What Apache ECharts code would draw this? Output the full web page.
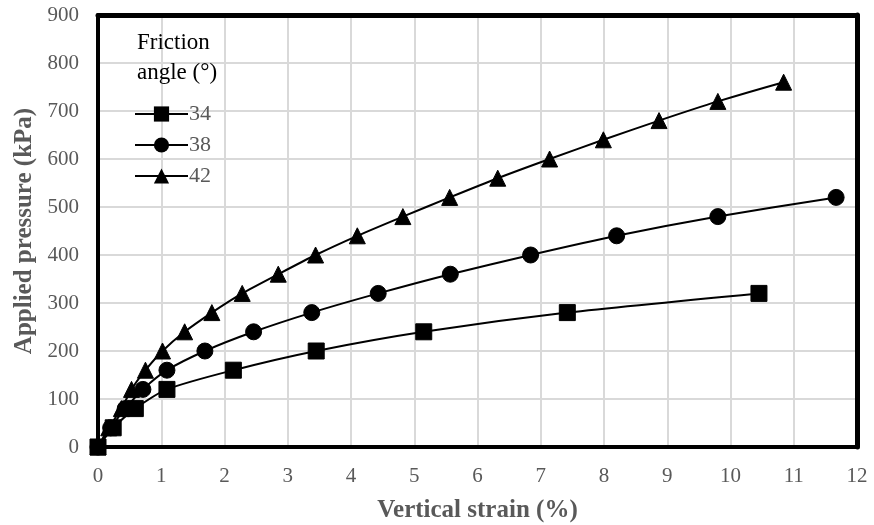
<!DOCTYPE html>
<html>
<head>
<meta charset="utf-8">
<script src="https://cdn.jsdelivr.net/npm/echarts@6/dist/echarts.min.js"></script>
<style>
  html, body { margin: 0; padding: 0; background: #fff; }
  #chart { width: 874px; height: 525px; }
</style>
</head>
<body>
<div id="chart"></div>
<script>
// Applied pressure vs vertical strain for three friction angles
const pressure34 = [0, 40, 80, 120, 160, 200, 240, 280, 320];
const strain34   = [0, 0.24, 0.59, 1.09, 2.14, 3.45, 5.15, 7.42, 10.45];

const pressure38 = [0, 40, 80, 120, 160, 200, 240, 280, 320, 360, 400, 440, 480, 520];
const strain38   = [0, 0.2, 0.43, 0.71, 1.09, 1.69, 2.46, 3.38, 4.43, 5.57, 6.84, 8.2, 9.8, 11.67];

const pressure42 = [0, 40, 80, 120, 160, 200, 240, 280, 320, 360, 400, 440, 480, 520, 560, 600, 640, 680, 720, 760];
const strain42   = [0, 0.17, 0.37, 0.53, 0.75, 1.02, 1.37, 1.8, 2.28, 2.85, 3.44, 4.1, 4.82, 5.56, 6.32, 7.14, 7.99, 8.87, 9.8, 10.84];

const seriesNames = ['34', '38', '42'];
const xTicks = [0, 12, 1];
const yTicks = [0, 900, 100];

const pairs = (xs, ys) => xs.map((x, i) => [x, ys[i]]);

const serif = 'Liberation Serif';
const axisGray = '#595959';

const lineSeries = (name, data, symbol, size) => ({
  name: name,
  type: 'line',
  data: data,
  symbol: symbol,
  symbolSize: size,
  smooth: 0.25,
  lineStyle: { color: '#000', width: 2 },
  itemStyle: { color: '#000', borderColor: '#000' },
  emphasis: { disabled: true },
  z: 3
});

// plain frame axes on the top and right edges
const frameAxis = (position, range) => ({
  type: 'value',
  position: position,
  min: range[0],
  max: range[1],
  interval: range[2],
  axisLine: { show: true, onZero: false, lineStyle: { color: '#000', width: 5 } },
  axisTick: { show: false },
  axisLabel: { show: false },
  splitLine: { show: false }
});

const chart = echarts.init(document.getElementById('chart'), null, { renderer: 'canvas' });

chart.setOption({
  animation: false,
  backgroundColor: '#fff',
  title: {
    text: 'Friction\nangle (°)',
    left: 132,
    top: 23,
    textStyle: { fontFamily: serif, fontSize: 23, fontWeight: 'normal', color: '#000', lineHeight: 30 }
  },
  legend: {
    orient: 'vertical',
    left: 129,
    top: 98,
    itemWidth: 53,
    itemHeight: 19,
    itemGap: 9,
    data: seriesNames,
    textStyle: { fontFamily: serif, fontSize: 22, color: axisGray, padding: [0, 0, 0, -4] },
    selectedMode: false
  },
  grid: {
    left: 98,
    right: 17,
    top: 15,
    bottom: 78,
    outerBoundsMode: 'none',
    containLabel: false
  },
  xAxis: [{
    type: 'value',
    min: xTicks[0],
    max: xTicks[1],
    interval: xTicks[2],
    name: 'Vertical strain (%)',
    nameLocation: 'middle',
    nameGap: 51,
    nameTextStyle: { fontFamily: serif, fontSize: 25, fontWeight: 'bold', color: axisGray },
    axisLine: { show: true, lineStyle: { color: '#000', width: 4 } },
    axisTick: { show: false },
    axisLabel: { fontFamily: serif, fontSize: 21, color: axisGray, margin: 19 },
    splitLine: { show: true, lineStyle: { color: '#d9d9d9', width: 2 } }
  }, frameAxis('top', xTicks)],
  yAxis: [{
    type: 'value',
    min: yTicks[0],
    max: yTicks[1],
    interval: yTicks[2],
    name: 'Applied pressure (kPa)',
    nameLocation: 'middle',
    nameGap: 61,
    nameTextStyle: { fontFamily: serif, fontSize: 25, fontWeight: 'bold', color: axisGray },
    axisLine: { show: true, lineStyle: { color: '#000', width: 4 } },
    axisTick: { show: false },
    axisLabel: { fontFamily: serif, fontSize: 21, color: axisGray, margin: 19 },
    splitLine: { show: true, lineStyle: { color: '#d9d9d9', width: 2 } }
  }, frameAxis('right', yTicks)],
  series: [
    lineSeries(seriesNames[0], pairs(strain34, pressure34), 'rect', 16),
    lineSeries(seriesNames[1], pairs(strain38, pressure38), 'circle', 16),
    lineSeries(seriesNames[2], pairs(strain42, pressure42), 'triangle', 16)
  ]
});
</script>
</body>
</html>
